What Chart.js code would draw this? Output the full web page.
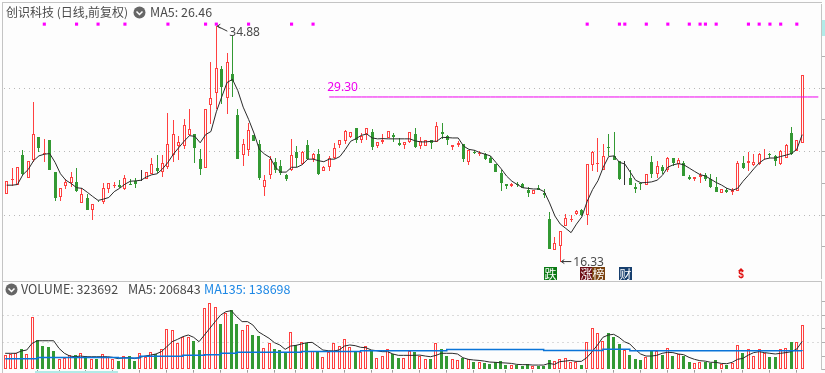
<!DOCTYPE html>
<html>
<head>
<meta charset="utf-8">
<title>创识科技</title>
<script src="https://cdn.jsdelivr.net/npm/chart.js@4/dist/chart.umd.js"></script>
<style>
  html, body { margin: 0; padding: 0; background: #fdfdfd; width: 825px; height: 373px; overflow: hidden; }
  canvas { position: absolute; left: 0; }
  #priceCanvas { top: 0; }
  #volumeCanvas { top: 282px; }
  .frame { position: absolute; border: 1px solid #c4c4c4; border-right-width: 0; box-sizing: border-box; left: 2px; width: 820px; }
  .head { position: absolute; font: 12.5px "Noto Sans CJK SC", sans-serif; color: #4a4a4a; line-height: 16px; white-space: nowrap; }
  .strip { position: absolute; background: #b2ebe8; }
</style>
</head>
<body>
<div class="frame" style="top:2px;height:280px"></div>
<div class="frame" style="top:281px;height:92px;border-bottom:0"></div>
<canvas id="priceCanvas" width="825" height="282"></canvas>
<canvas id="volumeCanvas" width="825" height="91"></canvas>
<div class="strip" style="left:822px;top:20px;width:3px;height:16px"></div>
<div class="strip" style="left:35px;top:371px;width:83px;height:2px"></div>

<div class="head" style="left:6px;top:4px;font-size:12px">创识科技 (日线,前复权)</div>
<svg style="position:absolute;left:133px;top:6px" width="13" height="13"><circle cx="6.5" cy="6.5" r="6" fill="#666"/><path d="M3.5 5.5 6.5 8.5 9.5 5.5" stroke="#fff" stroke-width="1.5" fill="none"/></svg>
<div class="head" style="left:150px;top:4px">MA5: 26.46</div>

<svg style="position:absolute;left:5px;top:283px" width="13" height="13"><circle cx="6.5" cy="6.5" r="6" fill="#666"/><path d="M3.5 5.5 6.5 8.5 9.5 5.5" stroke="#fff" stroke-width="1.5" fill="none"/></svg>
<div class="head" style="left:21px;top:281px">VOLUME: 323692</div>
<div class="head" style="left:128px;top:281px">MA5: 206843</div>
<div class="head" style="left:204px;top:281px;color:#1e88e5">MA135: 138698</div>

<script>
const opens = [21.69,22.74,22.4,24.71,22.92,24.33,26.15,24.79,25.94,23.4,21.38,22.3,22.53,22.61,20.92,21.33,20.38,21.12,21.02,22.07,22.3,22.35,22.07,22.45,22.66,22.87,22.87,23.25,23.71,23.38,23.81,24.76,25.43,25.43,26.28,26.4,24.4,23.71,28.67,29.59,31.54,29.23,31.08,27.87,24.74,25.12,26.33,25.61,22.2,23.12,24.15,
  23.87,23.12,23.51,24.94,24.02,25.48,24.4,24.79,23.48,23.81,24.48,25.51,25.84,26.15,26.84,25.89,26.38,26.53,25.43,25.74,26.07,26.33,25.64,25.48,25.76,26.4,25.43,25.43,25.92,25.76,26.53,26.25,25.35,25.53,25.56,24.15,25,24.84,24.79,24.48,24.02,23.33,22.48,22.28,22.43,22.43,21.97,21.66,22.1,21.71,
  19.72,17.28,17.59,19.13,19.61,20.1,20.43,20,23.97,24.05,23.51,25.33,24.66,24.28,23.2,22.92,22.23,22.56,22.36,24.15,23.25,23.82,23.51,24.46,24,24.07,23,22.82,22.97,23.13,22.87,22.18,21.77,21.97,21.79,21.9,24.07,24.12,23.95,24,24.46,24.79,24.66,24.02,24.46,26.46,25.05,25.69];
const closes = [22.66,22.84,23.76,23.25,24.23,26.38,25.28,24.92,23.58,21.33,22.15,22.61,22.99,21.89,21.69,20.43,20.84,21.07,22.15,22.53,22.35,22.2,22.92,22.4,22.43,22.87,23.38,24.02,23.43,24.07,25.56,26.38,25.76,27.1,26.79,25.28,23.64,28.34,29.23,31.62,30.1,32.08,30.57,24.4,25.56,26.71,25.87,22.92,22.79,24.4,23.51,
  23.33,22.87,24.71,24.53,24.97,24.4,24.84,23.25,23.79,24.53,25.3,25.92,26.64,26.53,25.89,26.25,26.89,25.35,25.76,25.94,26.58,26.12,25.51,25.76,26.53,25.35,25.81,25.89,25.66,27.02,26.35,25.94,25.48,25.64,24.4,25.15,24.92,24.92,24.4,24.12,23.35,22.56,22.3,22.48,22.38,22.15,21.71,21.97,22,21.58,
  17.36,17.8,18.74,19.77,19.72,20.33,20,24,25,24.1,24.61,25.28,24.36,22.87,23.2,22.36,22.02,22.48,23.26,23.25,23.89,23.46,24.46,24.1,24.36,23.07,22.87,23,23.15,22.82,22.23,21.79,22.02,21.85,21.97,24.07,23.71,24.28,24.15,24.77,24.5,24.74,24.23,25.02,25.48,24.79,25.92,31.07];
const highs = [22.66,23.69,23.76,25.1,24.23,28.94,26.15,25.99,25.94,23.4,22.15,22.87,23.38,23.71,22.15,21.64,20.84,21.12,22.56,22.53,22.61,22.74,23.17,22.87,22.92,23.58,23.38,24.46,24.71,24.71,28.07,27.48,26.2,27.53,28.38,26.4,25.17,28.34,32.03,34.88,31.77,32.8,34.16,28.38,26,27.23,26.33,25.94,23.17,24.66,24.53,
  24.33,23.23,26.02,25.4,25.05,25.94,24.92,25.17,23.84,24.61,25.64,25.94,26.71,26.53,26.84,26.46,26.89,26.79,25.76,26.4,26.58,26.46,26.07,25.76,26.53,26.84,26.15,25.89,25.92,27.3,27.23,26.33,25.48,25.81,25.56,25.15,25.12,25.05,24.87,24.66,24.02,23.56,22.48,22.53,22.61,22.56,22.23,21.97,22.35,22.05,
  20.26,18.26,18.74,20.1,19.97,20.43,20.48,24,25.05,26.07,25.56,26.41,26.56,24.28,24.23,23.51,22.49,22.56,23.26,24.61,24.23,23.95,24.54,24.46,24.48,24.23,23.13,23,23.3,23.33,23.26,23,22.02,22.1,22.1,24.28,24.61,24.97,24.8,24.87,25.18,24.92,24.72,25.13,25.56,26.97,25.92,31.07];
const lows = [21.69,22.3,22.4,23.17,22.92,24.15,24.97,24.15,23.58,21.12,21.12,22.05,22.23,21.84,20.92,20.43,19.58,21.02,20.87,21.74,22.1,22.1,21.97,22.33,22.15,22.66,22.87,23.25,23.33,22.97,23.63,24.15,24.33,25.17,26.2,24.1,23.17,23.71,27.17,28.39,28.77,27.95,29.33,24.4,23.89,24.66,25.82,22.79,21.51,22.87,23.33,
  23.12,22.66,23.43,23.76,23.97,24.35,24.2,23.17,23.43,23.43,24.4,25.25,25.56,26.1,25.64,25.69,25.94,25.12,25.25,25.61,26.07,25.74,25.43,25.17,25.69,25.28,25.17,25.43,25.17,25.76,26,25.48,25.12,25.35,24.2,23.94,24.79,24.61,24.35,24.12,23.35,21.89,22.05,22.2,22.23,22.1,21.38,21.66,21.97,21.33,
  17.36,17.28,16.33,19.13,19.46,20,19.92,19.2,23.43,23.38,23.51,24.66,24.3,22.74,22.36,22.33,21.72,21.97,22.36,22.92,22.92,23.25,23.38,23.84,23.69,23.07,22.74,22.66,22.56,22.66,22.1,21.79,21.77,21.72,21.59,21.9,23.64,23.43,23.9,23.95,24.36,24.46,23.84,23.95,24.46,24.72,25.05,25.69];
const ma5 = [22.35,22.35,22.4,23.17,23.58,24.28,24.66,24.79,24.84,24.15,23.25,22.74,22.48,22.15,22.1,21.79,21.46,21.15,21.25,21.38,21.84,22.1,22.43,22.66,22.69,22.74,23,23.17,23.25,23.64,24.15,24.79,25.3,25.81,26.25,26.2,25.69,26.33,26.58,28.13,29.3,30.44,30.69,29.8,28.5,27.54,26.46,25.17,24.79,24.53,23.76,
  23.38,23.38,23.76,23.76,23.97,24.4,24.4,24.28,24.2,24.4,24.4,24.61,25.17,25.81,26.02,26.28,26.38,26.07,26,26.02,26,26,26,26,26,25.84,25.76,25.76,25.81,25.81,26.12,26.1,26.07,26.07,25.43,25.17,25.1,24.92,24.79,24.66,24.15,23.64,23.07,22.66,22.4,22.15,22.1,22.05,22.05,21.84,
  20.95,19.92,19.28,18.95,18.61,19.28,19.85,21.08,22,22.7,23.77,24.61,24.66,24.15,24.02,23.38,22.74,22.54,22.56,22.61,22.74,23.13,23.77,23.95,24.05,23.95,23.69,23.43,23.18,23.07,22.82,22.56,22.36,22.1,21.95,22.1,22.66,23.13,23.64,24.1,24.4,24.49,24.49,24.61,24.72,24.84,25.18,26.33];
// volumes in thousands
const volumes = [105,115,120,149,115,383,215,173,166,134,78,83,107,105,120,103,78,78,112,90,78,63,100,103,63,120,90,129,115,151,295,291,198,242,237,210,144,449,486,457,335,413,437,335,291,327,254,249,156,193,149,
  144,125,274,181,200,193,139,132,90,132,193,173,222,164,137,127,173,139,83,100,149,112,88,85,137,127,100,76,78,193,149,100,76,71,85,76,56,56,51,42,56,63,34,34,37,27,39,29,29,29,
  71,61,76,83,54,56,34,200,303,266,208,271,237,188,144,107,76,68,95,139,139,107,156,100,115,98,56,46,54,59,51,68,39,34,51,178,120,154,98,149,122,90,90,154,156,203,203,323.692];
const volMa5 = [120,120,120,137,144,193,212,212,212,212,156,120,100,95,100,95,95,95,95,95,90,81,88,88,81,90,100,107,115,132,168,205,222,242,254,237,205,254,303,352,400,425,432,388,352,352,327,278,254,230,198,
  181,149,173,178,188,198,200,173,144,139,137,144,173,181,176,164,161,144,139,132,132,115,105,105,105,105,107,100,95,105,120,120,120,115,88,76,71,68,63,56,54,51,49,46,39,37,37,34,34,34,46,
  39,59,63,68,61,61,88,132,181,237,254,259,237,205,188,149,115,100,100,105,120,127,125,115,110,90,76,66,63,54,54,46,44,54,76,83,107,125,132,125,120,115,120,125,132,151,206.843];
const volMa135 = [81,81,81,81,81,81,90,90,90,90,90,90,90,90,90,90,90,90,90,90,90,85,85,85,85,98,98,98,98,98,98,98,98,105,105,105,105,110,110,110,120,120,120,127,127,127,127,127,127,127,127,127,127,127,127,
  134,134,134,134,134,134,134,134,134,134,134,139,139,139,139,139,139,139,139,139,139,139,139,139,139,139,139,147,147,147,147,147,147,147,147,147,147,147,147,147,147,147,147,147,147,
  140,140,140,140,140,140,140,140,140,140,140,149,149,149,149,149,
  139,139,139,139,139,139,139,139,139,139,139,139,139,139,139,139,139,139,139,139,139,139,139,139,139,139,139,139,139,139,139,139,138.698];

const markerIdx = [7,13,17,22,30,37,39,45,53,57,108,114,115,119,123,127,129,130,132,138,140,142,144,147];
const markerPrice = 35.04;
const extremeIdx = [39,103];
const extremeVal = [34.88,16.33];
const targetPrice = 29.3;
const targetStart = 60;
const badgeIdx = [101,107.7,110,115];
const badgeText = ["跌","涨","榜","财"];
const badgeColor = ["#0a7a14","#6e0f18","#7a4210","#173f6e"];
const dollarIdx = 136.6;
const priceTicksStep = 2.5;
const priceGrid = [20,25,30];
const volumeGrid = [200,400];
const timeTicks = [6,10,15,20,25,30,35,40,45,50,54,59,63,68,72,77,82,87,93,98,103,108,113,118,123,128,133,137,142,147];
const volGreenExtra = [7];

const UP = "#ff4040", DOWN = "#339933", FLAT = "#333333", PAPER = "#fdfdfd";
const labels = Array.from({ length: 152 }, (_, i) => i);
const candleColor = i => closes[i] > opens[i] ? UP : closes[i] < opens[i] ? DOWN : FLAT;

// keep the thin bars on whole pixels, the original has no antialiasing on them
const drawBar = Chart.BarElement.prototype.draw;
Chart.BarElement.prototype.draw = function (ctx) {
  const x = this.x, y = this.y, base = this.base;
  this.x = Math.floor(x) + 0.5;
  this.y = Math.round(y);
  this.base = Math.round(base);
  drawBar.call(this, ctx);
  this.x = x; this.y = y; this.base = base;
};

const notes = {
  id: "notes",
  afterDatasetsDraw(chart) {
    const { ctx, scales: { x, y } } = chart;
    ctx.save();
    ctx.textBaseline = "middle";
    ctx.font = '12px "Noto Sans", sans-serif';

    // high and low arrows
    extremeIdx.forEach((idx, n) => {
      const px = x.getPixelForValue(idx), py = y.getPixelForValue(extremeVal[n]);
      const dy = n === 0 ? 5 : 0, tx = px + 11, ty = py + dy;
      ctx.strokeStyle = "#333";
      ctx.beginPath();
      ctx.moveTo(px + 1, py);
      ctx.lineTo(tx, ty);
      ctx.moveTo(px + 4, py - 2);
      ctx.lineTo(px + 1, py);
      ctx.lineTo(px + 4, py + 2);
      ctx.stroke();
      ctx.fillStyle = "#4a4a4a";
      ctx.fillText(extremeVal[n].toFixed(2), tx + 2, ty + 1);
    });

    ctx.fillStyle = "#ee00ee";
    ctx.fillText(targetPrice.toFixed(2), x.getPixelForValue(targetStart) - 2, y.getPixelForValue(targetPrice) - 9);

    // event badges under the candles
    ctx.textAlign = "center";
    ctx.font = '12px "Noto Sans CJK SC", sans-serif';
    badgeIdx.forEach((idx, n) => {
      const px = Math.round(x.getPixelForValue(idx));
      ctx.fillStyle = badgeColor[n];
      ctx.fillRect(px - 6, 267, 13, 13);
      ctx.fillStyle = "#fff";
      ctx.fillText(badgeText[n], px + 0.5, 274);
    });
    const dx = Math.round(x.getPixelForValue(dollarIdx));
    ctx.fillStyle = "#e01010";
    ctx.beginPath();
    ctx.moveTo(dx, 268);
    ctx.lineTo(dx + 3, 271);
    ctx.lineTo(dx - 3, 271);
    ctx.fill();
    ctx.font = 'bold 10px "Liberation Sans", sans-serif';
    ctx.fillText("$", dx, 275.5);
    ctx.restore();
  }
};

const barOpts = { type: "bar", grouped: false, borderSkipped: false, inflateAmount: 0 };
const gridColor = list => c => list.includes(c.tick.value) ? "#b8b8b8" : "rgba(0,0,0,0)";

new Chart(document.getElementById("priceCanvas"), {
  data: {
    labels,
    datasets: [
      { type: "line", data: ma5, borderColor: "#2a2a2a", borderWidth: 1, pointRadius: 0, tension: 0, order: 0 },
      {
        type: "line",
        data: labels.map(i => i >= targetStart ? targetPrice : null),
        borderColor: "#ee00ee", borderWidth: 1, pointRadius: 0, order: 0
      },
      {
        type: "line", showLine: false, order: 0,
        data: labels.map(i => markerIdx.includes(i) ? markerPrice : null),
        pointStyle: "rect", pointRadius: 2.2, pointBackgroundColor: "#ff00ff", pointBorderWidth: 0
      },
      {
        ...barOpts, data: opens.map((o, i) => [o, closes[i]]), barThickness: 3, borderWidth: 1, order: 1,
        borderColor: c => candleColor(c.dataIndex),
        backgroundColor: c => closes[c.dataIndex] > opens[c.dataIndex] ? PAPER : candleColor(c.dataIndex)
      },
      {
        ...barOpts, data: lows.map((l, i) => [l, highs[i]]), barThickness: 1, borderWidth: 0, order: 2,
        backgroundColor: c => candleColor(c.dataIndex)
      }
    ]
  },
  options: {
    responsive: false,
    animation: false,
    events: [],
    layout: { padding: { left: 2.5, top: 3, bottom: 0.5 } },
    plugins: { legend: { display: false }, tooltip: { enabled: false } },
    scales: {
      x: { type: "category", offset: true, display: false },
      y: {
        position: "right", min: 15.036, max: 36.626,
        afterFit(s) { s.width = 4; },
        afterBuildTicks(s) { s.ticks = s.ticks.filter(t => t.value % priceTicksStep === 0); },
        ticks: { display: false, stepSize: priceTicksStep },
        border: { color: "#c4c4c4", dash: [1, 4] },
        grid: { color: gridColor(priceGrid), tickColor: "#b0b0b0", tickLength: 4, tickBorderDash: [] }
      }
    }
  },
  plugins: [notes]
});

const volIsUp = i => closes[i] >= opens[i] && !volGreenExtra.includes(i);

new Chart(document.getElementById("volumeCanvas"), {
  data: {
    labels,
    datasets: [
      { type: "line", data: volMa5, borderColor: "#2a2a2a", borderWidth: 1, pointRadius: 0, tension: 0, order: 1 },
      { type: "line", data: volMa135, borderColor: "#0a74d8", borderWidth: 1.5, pointRadius: 0, stepped: true, order: 0 },
      {
        ...barOpts, data: volumes, barThickness: 3, borderWidth: 1, order: 2,
        borderColor: c => volIsUp(c.dataIndex) ? UP : DOWN,
        backgroundColor: c => volIsUp(c.dataIndex) ? PAPER : DOWN
      }
    ]
  },
  options: {
    responsive: false,
    animation: false,
    events: [],
    layout: { padding: { left: 2.5 } },
    plugins: { legend: { display: false }, tooltip: { enabled: false } },
    scales: {
      x: {
        type: "category", offset: true,
        afterFit(s) { s.height = 3.3; },
        afterBuildTicks(s) { s.ticks = timeTicks.map(value => ({ value })); },
        ticks: { display: false, autoSkip: false },
        border: { display: false },
        grid: { offset: false, drawOnChartArea: false, color: "#9a9a9a", tickLength: 3 }
      },
      y: {
        position: "right", min: 0, max: 642,
        afterFit(s) { s.width = 4; },
        afterBuildTicks(s) { s.ticks = s.ticks.filter(t => t.value % 100 === 0); },
        ticks: { display: false, stepSize: 100 },
        border: { color: "#c4c4c4", dash: [1, 4] },
        grid: { color: gridColor(volumeGrid), tickColor: "#b0b0b0", tickLength: 4, tickBorderDash: [] }
      }
    }
  }
});
</script>
</body>
</html>
